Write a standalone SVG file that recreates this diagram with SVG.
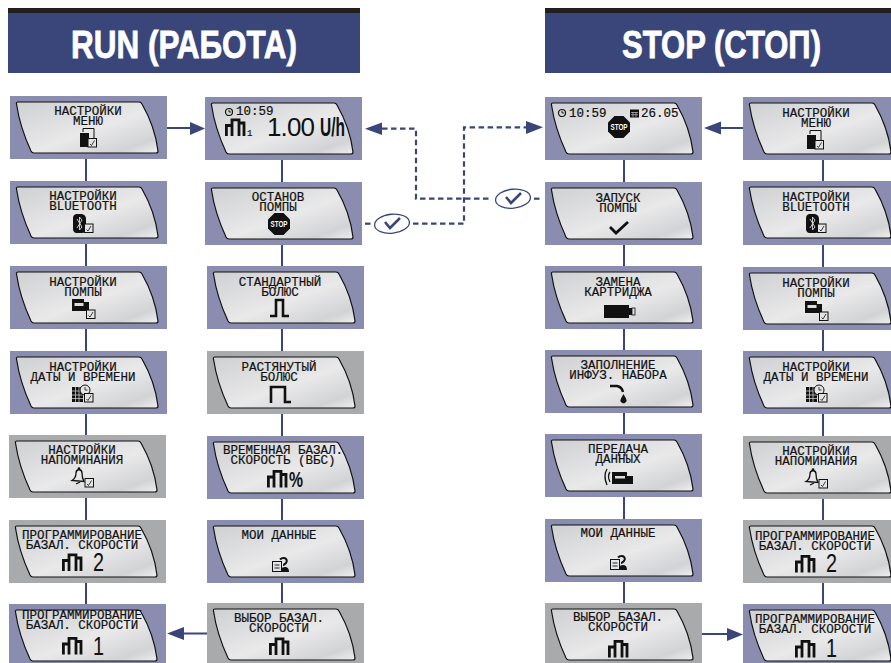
<svg xmlns="http://www.w3.org/2000/svg" width="891" height="663" viewBox="0 0 891 663">
<style>
.blue{fill:#8b8db0}.gray{fill:#a9aaac}
.scr{fill:url(#lcd);stroke:#111;stroke-width:1.2}
.t{font-family:"Liberation Mono","DejaVu Sans Mono",monospace;font-size:12.5px;fill:#111;stroke:#111;stroke-width:.2;text-anchor:middle}
.s{font-family:"Liberation Mono","DejaVu Sans Mono",monospace;font-size:12.5px;fill:#111;stroke:#111;stroke-width:.2}
.big{font-family:"Liberation Sans",Arial,sans-serif;font-size:26px;fill:#111}
.h{font-family:"Liberation Sans",Arial,sans-serif;font-weight:700;font-size:39px;fill:#fff;stroke:#fff;stroke-width:.8}
.st{font-family:"Liberation Sans",Arial,sans-serif;font-weight:700;font-size:9px;fill:#fff;text-anchor:middle}
.k{fill:none;stroke:#111}
.f{fill:#111}
.sol{fill:none;stroke:#3a4679;stroke-width:2}
.dash{fill:none;stroke:#3a4679;stroke-width:2.2;stroke-dasharray:5.5 3.5}
.head{fill:#3a4679}
.oval{fill:#fff;stroke:#3a4679;stroke-width:1.3}
.tick{fill:none;stroke:#3a4679;stroke-width:2.6}
</style>
<defs>
<linearGradient id="lcd" x1="0" y1="0" x2="1" y2="1">
<stop offset="0" stop-color="#cfd0d2"/><stop offset=".55" stop-color="#e9e9ea"/><stop offset=".85" stop-color="#d2d3d5"/><stop offset="1" stop-color="#eeeeee"/>
</linearGradient>
<path id="scr" class="scr" d="M6.500 8Q6 6 8 6H129Q131 6 132 8C140 22 146 38 148 55Q148 57 146 57H24Q22 57 21 55C14 40 9 25 6.500 8Z"/>
<g id="box"><rect x=".5" y=".5" width="8.500" height="8.500" fill="#e4e4e4" stroke="#111"/><path d="M2.500 6L4 7.500L7 2.500" fill="none" stroke="#111" stroke-width=".8"/></g>
<path id="basal" class="k" stroke-width="2.800" d="M1.400 17.500V7H7V17.500M7 7V1.400H14V17.500M14 4.500H19V17.500"/>
<g id="imenu"><rect y="5" width="9" height="14" class="f"/><path class="k" d="M3 4V.5H14V10"/><use href="#box" x="7.500" y="10"/></g>
<g id="ibt"><path class="f" d="M3 0H9Q13 1 13 5V15Q13 19 9 19H3Q0 18 0 15V4Q0 1 3 0Z"/><path d="M4 5L9 13L6.500 16V3L9 6L4 14" fill="none" stroke="#ddd" stroke-width=".9"/><use href="#box" x="11" y="9.500"/></g>
<g id="ipump"><path class="f" d="M0 0H12V3H17V12H0Z"/><rect x="2.500" y="4" width="9" height="3" fill="#ddd"/><use href="#box" x="14" y="10.500"/></g>
<g id="idt"><rect y="2" width="11" height="15" class="f"/><path d="M3.500 2V17M7 2V17M0 6H11M0 10H11M0 13.500H11" stroke="#ddd" stroke-width=".7"/><circle cx="13" cy="5" r="5" fill="#e4e4e4" stroke="#111"/><path class="k" stroke-width=".8" d="M13 2V5H15.500"/><use href="#box" x="12" y="8"/></g>
<g id="ibell"><path class="k" stroke-width="1.300" d="M1 13.500Q5 11 5 6Q5 3 8 2.500Q11 3 11 6Q11 11 13 14.500ZM5 17L9 15"/><circle cx="8" cy="1.500" r="1.300" class="f"/><use href="#box" x="13.500" y="11"/></g>
<g id="idata"><rect x=".5" y="4.500" width="9" height="10" fill="none" stroke="#111"/><path class="k" stroke-width=".9" d="M2.500 8H7.500M2.500 11H7.500"/><path class="k" stroke-width="2" d="M8 2.500Q10 .5 13 1.200Q16 3 14 6Q12 8 11 8"/><path class="f" d="M9 15V11.500Q10 10 13 10Q17 10 17 15Z"/></g>
<g id="istop"><path class="f" d="M-4.500 -11H4.500L11 -4.500V4.500L4.500 11H-4.500L-11 4.500V-4.500Z"/><text class="st" x="-8.500" y="3" textLength="17" lengthAdjust="spacingAndGlyphs" style="text-anchor:start">STOP</text></g>
<g id="iclock"><circle cx="4" cy="4" r="3.500" fill="none" stroke="#111" stroke-width="1.200"/><path class="k" stroke-width=".9" d="M4 1.800V4H6"/></g>
</defs>

<g id="header-run"><rect x="8" y="13" width="352" height="60" fill="#3a4679"/><rect x="8" y="8" width="352" height="5" fill="#231f20"/><text class="h" x="71" y="58" textLength="226" lengthAdjust="spacingAndGlyphs">RUN (РАБОТА)</text></g>
<g id="header-stop"><rect x="545" y="13" width="346" height="60" fill="#3a4679"/><rect x="545" y="8" width="346" height="5" fill="#231f20"/><text class="h" x="622" y="58" textLength="199" lengthAdjust="spacingAndGlyphs">STOP (СТОП)</text></g>

<g id="connectors">
<path class="sol" d="M86 159V181M86 244V266M86 329V351M86 414V435M86 498V520M86 583V604"/>
<path class="sol" d="M282 160V182M282 245V266M282 329V351M282 414V436M282 499V520M282 583V603"/>
<path class="sol" d="M624 160V182M624 245V266M624 329V350M624 413V434M624 497V519M624 582V603"/>
<path class="sol" d="M823 160V182M823 245V267M823 330V351M823 414V436M823 499V520M823 583V604"/>
<path class="sol" d="M167 128H190"/><path class="head" d="M205 128.500L190 122V135Z"/>
<path class="sol" d="M743 128H721"/><path class="head" d="M704 128L721 121.500V134.500Z"/>
<path class="sol" d="M207 633.500H184"/><path class="head" d="M167 633.500L184 627V640Z"/>
<path class="sol" d="M702 634H727"/><path class="head" d="M743 634.500L727 628V641Z"/>
<path class="dash" d="M382 128.700H416V198.700H492"/><path class="head" d="M365 128.700L382 122.500V135Z"/>
<path class="dash" d="M534 198.700H542"/>
<path class="dash" d="M365 223.700H372"/>
<path class="dash" d="M413 223.700H464V127.300H526"/><path class="head" d="M543 127.300L526 121V134Z"/>
<g id="confirm-run"><ellipse class="oval" cx="392" cy="223.700" rx="17.500" ry="9.500" transform="rotate(-6 392 223.700)"/><path class="tick" d="M385 222L390 228L400 218"/></g>
<g id="confirm-stop"><ellipse class="oval" cx="513" cy="198.700" rx="17.500" ry="9.500" transform="rotate(-6 513 198.700)"/><path class="tick" d="M506 197L511 203L521 193"/></g>
</g>

<g id="a1"><rect class="blue" x="10" y="96" width="157" height="63"/><use href="#scr" x="10" y="96"/><text class="t"><tspan x="88" y="115">НАСТРОЙКИ</tspan><tspan x="88" y="125">МЕНЮ</tspan></text><use href="#imenu" x="80" y="128"/></g>
<g id="a2"><rect class="blue" x="10" y="181" width="157" height="63"/><use href="#scr" x="10" y="181"/><text class="t"><tspan x="83" y="200">НАСТРОЙКИ</tspan><tspan x="83" y="210">BLUETOOTH</tspan></text><use href="#ibt" x="73" y="214"/></g>
<g id="a3"><rect class="blue" x="10" y="266" width="157" height="63"/><use href="#scr" x="10" y="266"/><text class="t"><tspan x="83" y="286">НАСТРОЙКИ</tspan><tspan x="83" y="296">ПОМПЫ</tspan></text><use href="#ipump" x="72" y="299"/></g>
<g id="a4"><rect class="blue" x="10" y="351" width="157" height="63"/><use href="#scr" x="10" y="351"/><text class="t"><tspan x="83" y="371">НАСТРОЙКИ</tspan><tspan x="83" y="381">ДАТЫ И ВРЕМЕНИ</tspan></text><use href="#idt" x="72" y="385"/></g>
<g id="a5"><rect class="gray" x="9" y="435" width="157" height="63"/><use href="#scr" x="9" y="435"/><text class="t"><tspan x="82" y="454">НАСТРОЙКИ</tspan><tspan x="82" y="464">НАПОМИНАНИЯ</tspan></text><use href="#ibell" x="71" y="467"/></g>
<g id="a6"><rect class="gray" x="9" y="520" width="157" height="63"/><use href="#scr" x="9" y="520"/><text class="t"><tspan x="82" y="539">ПРОГРАММИРОВАНИЕ</tspan><tspan x="82" y="549">БАЗАЛ. СКОРОСТИ</tspan></text><use href="#basal" x="62" y="553.500"/><text class="big" x="93" y="571" textLength="11" lengthAdjust="spacingAndGlyphs">2</text></g>
<g id="a7"><rect class="blue" x="9" y="604" width="157" height="59"/><use href="#scr" x="9" y="604"/><text class="t"><tspan x="82" y="619">ПРОГРАММИРОВАНИЕ</tspan><tspan x="82" y="629">БАЗАЛ. СКОРОСТИ</tspan></text><use href="#basal" x="62" y="637"/><text class="big" x="93" y="655" textLength="11" lengthAdjust="spacingAndGlyphs">1</text></g>

<g id="b1"><rect class="blue" x="205" y="97" width="157" height="63"/><use href="#scr" x="205" y="97"/><use href="#iclock" x="225" y="108"/><text class="s" x="236" y="115">10:59</text><use href="#basal" x="225" y="118.500"/><text class="s" x="247" y="136" style="font-size:9px">1</text><text class="big" x="267" y="136" textLength="48" lengthAdjust="spacing">1.00</text><text class="big" x="320" y="136" textLength="25" lengthAdjust="spacingAndGlyphs" style="font-weight:700">U/h</text></g>
<g id="b2"><rect class="blue" x="205" y="182" width="157" height="63"/><use href="#scr" x="205" y="182"/><text class="t"><tspan x="278" y="201">ОСТАНОВ</tspan><tspan x="278" y="211">ПОМПЫ</tspan></text><use href="#istop" x="279" y="224"/></g>
<g id="b3"><rect class="blue" x="207" y="266" width="157" height="63"/><use href="#scr" x="207" y="266"/><text class="t"><tspan x="280" y="286">СТАНДАРТНЫЙ</tspan><tspan x="280" y="296">БОЛЮС</tspan></text><path class="k" stroke-width="2.600" d="M270 316H276V300H283V316H289"/></g>
<g id="b4"><rect class="gray" x="207" y="351" width="157" height="63"/><use href="#scr" x="207" y="351"/><text class="t"><tspan x="279" y="371">РАСТЯНУТЫЙ</tspan><tspan x="279" y="381">БОЛЮС</tspan></text><path class="k" stroke-width="2.600" d="M271 403V387H285V402H291"/></g>
<g id="b5"><rect class="blue" x="207" y="436" width="157" height="63"/><use href="#scr" x="207" y="436"/><text class="t"><tspan x="283" y="454">ВРЕМЕННАЯ БАЗАЛ.</tspan><tspan x="283" y="464">СКОРОСТЬ (ВБС)</tspan></text><use href="#basal" x="267" y="470"/><text class="big" x="289" y="487" textLength="14" lengthAdjust="spacingAndGlyphs" style="font-weight:700;font-size:22px">%</text></g>
<g id="b6"><rect class="blue" x="207" y="520" width="157" height="63"/><use href="#scr" x="207" y="520"/><text class="t" x="279" y="539">МОИ ДАННЫЕ</text><use href="#idata" x="272" y="557"/></g>
<g id="b7"><rect class="gray" x="207" y="603" width="157" height="60"/><use href="#scr" x="207" y="603"/><text class="t"><tspan x="279" y="622">ВЫБОР БАЗАЛ.</tspan><tspan x="279" y="632">СКОРОСТИ</tspan></text><use href="#basal" x="269" y="637.500"/></g>

<g id="c1"><rect class="blue" x="545" y="97" width="157" height="63"/><use href="#scr" x="545" y="97"/><use href="#iclock" x="558" y="109"/><text class="s" x="569" y="117">10:59</text><rect x="630" y="109.500" width="9" height="8" class="f"/><path d="M631 112.500H638M631 114.700H638M633 112V117M636 112V117" stroke="#ddd" stroke-width=".6"/><text class="s" x="641" y="117">26.05</text><use href="#istop" x="619" y="127"/></g>
<g id="c2"><rect class="blue" x="545" y="182" width="157" height="63"/><use href="#scr" x="545" y="182"/><text class="t"><tspan x="618" y="202">ЗАПУСК</tspan><tspan x="618" y="212">ПОМПЫ</tspan></text><path class="k" stroke-width="2.800" d="M610 227L616 233L628 222"/></g>
<g id="c3"><rect class="blue" x="545" y="266" width="157" height="63"/><use href="#scr" x="545" y="266"/><text class="t"><tspan x="618" y="286">ЗАМЕНА</tspan><tspan x="618" y="296">КАРТРИДЖА</tspan></text><path class="f" d="M604 305H629V308H632V315H629V318H604Z"/><rect x="632" y="308" width="3" height="7" fill="none" stroke="#111" stroke-width=".8"/></g>
<g id="c4"><rect class="blue" x="545" y="350" width="157" height="63"/><use href="#scr" x="545" y="350"/><text class="t"><tspan x="618" y="369">ЗАПОЛНЕНИЕ</tspan><tspan x="618" y="379">ИНФУЗ. НАБОРА</tspan></text><path class="k" stroke-width="2.400" d="M610 386H617Q622 387 623 392"/><path class="f" d="M623.500 394L626 398.500A3 3 0 1 1 621 398.500Z"/></g>
<g id="c5"><rect class="blue" x="545" y="434" width="157" height="63"/><use href="#scr" x="545" y="434"/><text class="t"><tspan x="618" y="453">ПЕРЕДАЧА</tspan><tspan x="618" y="463">ДАННЫХ</tspan></text><path class="k" stroke-width="1.300" d="M607 469Q603 476 607 485M610 472Q607 476 610 482"/><path class="f" d="M612 472H627V476H633V484H612Z"/><rect x="615" y="476" width="10" height="2.500" fill="#ddd"/></g>
<g id="c6"><rect class="blue" x="545" y="519" width="157" height="63"/><use href="#scr" x="545" y="519"/><text class="t" x="618" y="537">МОИ ДАННЫЕ</text><use href="#idata" x="610" y="555"/></g>
<g id="c7"><rect class="gray" x="545" y="603" width="157" height="60"/><use href="#scr" x="545" y="603"/><text class="t"><tspan x="618" y="621">ВЫБОР БАЗАЛ.</tspan><tspan x="618" y="631">СКОРОСТИ</tspan></text><use href="#basal" x="608" y="640"/></g>

<g id="d1"><rect class="blue" x="743" y="97" width="157" height="63"/><use href="#scr" x="743" y="97"/><text class="t"><tspan x="816" y="117">НАСТРОЙКИ</tspan><tspan x="816" y="127">МЕНЮ</tspan></text><use href="#imenu" x="807" y="130"/></g>
<g id="d2"><rect class="blue" x="743" y="181" width="157" height="64"/><use href="#scr" x="743" y="181"/><text class="t"><tspan x="816" y="201">НАСТРОЙКИ</tspan><tspan x="816" y="211">BLUETOOTH</tspan></text><use href="#ibt" x="806" y="214"/></g>
<g id="d3"><rect class="blue" x="743" y="267" width="157" height="63"/><use href="#scr" x="743" y="267"/><text class="t"><tspan x="816" y="287">НАСТРОЙКИ</tspan><tspan x="816" y="297">ПОМПЫ</tspan></text><use href="#ipump" x="805" y="301"/></g>
<g id="d4"><rect class="blue" x="743" y="351" width="157" height="63"/><use href="#scr" x="743" y="351"/><text class="t"><tspan x="816" y="371">НАСТРОЙКИ</tspan><tspan x="816" y="381">ДАТЫ И ВРЕМЕНИ</tspan></text><use href="#idt" x="806" y="385"/></g>
<g id="d5"><rect class="gray" x="743" y="436" width="157" height="63"/><use href="#scr" x="743" y="436"/><text class="t"><tspan x="816" y="455">НАСТРОЙКИ</tspan><tspan x="816" y="465">НАПОМИНАНИЯ</tspan></text><use href="#ibell" x="805" y="468"/></g>
<g id="d6"><rect class="gray" x="743" y="520" width="157" height="63"/><use href="#scr" x="743" y="520"/><text class="t"><tspan x="815" y="540">ПРОГРАММИРОВАНИЕ</tspan><tspan x="815" y="550">БАЗАЛ. СКОРОСТИ</tspan></text><use href="#basal" x="795" y="555"/><text class="big" x="826" y="572" textLength="11" lengthAdjust="spacingAndGlyphs">2</text></g>
<g id="d7"><rect class="blue" x="743" y="604" width="157" height="59"/><use href="#scr" x="743" y="604"/><text class="t"><tspan x="815" y="623">ПРОГРАММИРОВАНИЕ</tspan><tspan x="815" y="633">БАЗАЛ. СКОРОСТИ</tspan></text><use href="#basal" x="795" y="640"/><text class="big" x="826" y="657" textLength="11" lengthAdjust="spacingAndGlyphs">1</text></g>
</svg>
